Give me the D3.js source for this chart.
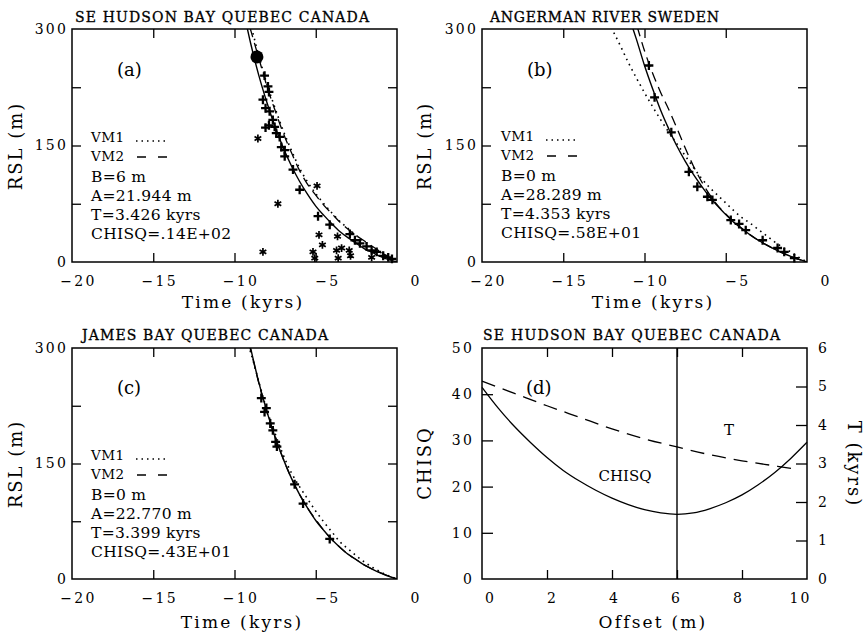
<!DOCTYPE html>
<html>
<head>
<meta charset="utf-8">
<script src="https://cdn.jsdelivr.net/npm/d3@7"></script>
<style>
	body { margin: 0; background: #fff; }
	svg { display: block; font-family: "DejaVu Serif", "Liberation Serif", serif; }
</style>
</head>
<body>
<svg id="chart" width="866" height="637"></svg>
<script>
// ---- values ----
var timeTicks = [-20, -15, -10, -5, 0];
var timeMinor = [-15, -10, -5];
var rslTicks = [0, 150, 300];
var rslMinor = [75, 150, 225];

// (a) SE Hudson Bay  [time kyrs, RSL m]
var aSolid = [[-9.3,309],[-9,281],[-8.5,240],[-8,205],[-7.5,174],[-7,147],[-6.5,124],[-6,104],[-5.5,87],[-5,72],[-4.5,60],[-4,49],[-3.5,39],[-3,31],[-2.5,24],[-2,17],[-1.5,12],[-1,7],[-0.5,3],[0,0]];
var aVm2 = [[-9.05,302],[-8.5,262],[-8,226],[-7.5,195],[-7,166],[-6.5,141],[-6,118],[-5.5,100],[-5,86],[-4.5,73],[-4,62],[-3.5,51],[-3,42],[-2.5,34],[-2,27],[-1.5,20],[-1,13],[-0.5,6],[0,0]];
var aVm1 = [[-8.95,302],[-8.5,265],[-8,229],[-7.5,198],[-7,169],[-6.5,144],[-6,121],[-5.5,103],[-5,88],[-4.5,75],[-4,63],[-3.5,52],[-3,43],[-2.5,34],[-2,26],[-1.5,19],[-1,12],[-0.5,5],[0,0]];
var aCross = [[-8.15,240],[-7.94,226],[-7.88,219],[-8.25,209],[-8.09,198],[-7.84,194],[-7.64,183],[-7.88,176],[-7.53,174],[-8.09,173],[-7.43,166],[-7.22,161],[-7.12,148],[-6.91,144],[-6.91,136],[-6.4,119],[-5.99,93],[-4.86,59],[-4.14,48],[-2.9,36],[-2.59,28],[-2.28,24],[-1.87,20],[-1.56,15],[-1.25,13],[-0.85,8],[-0.54,6],[-0.31,4]];
var aStar = [[-8.56,159],[-7.33,75],[-4.92,98],[-8.25,13],[-4.8,35],[-4.59,22],[-3.66,33],[-5.17,13],[-5.06,5],[-3.72,15],[-3.41,18],[-3.62,5],[-2.94,15],[-2.86,8],[-1.56,6]];
var aBig = [[-8.62,264]];
var aText = ["B=6  m", "A=21.944 m", "T=3.426 kyrs", "CHISQ=.14E+02"];

// (b) Angerman River
var bSolid = [[-10.8,306],[-10.5,287],[-10,253],[-9.5,223],[-9,195],[-8.5,171],[-8,149],[-7.5,130],[-7,113],[-6.5,98],[-6,84],[-5.5,72],[-5,61],[-4.5,51],[-4,43],[-3.5,35],[-3,28],[-2.5,22],[-2,16.5],[-1.5,11.6],[-1,7.3],[-0.5,3.4],[0,0]];
var bVm2 = [[-10.45,303],[-10,272],[-9.5,243],[-9,218],[-8.5,196],[-8,172],[-7.5,147],[-7,124],[-6.5,104],[-6,87],[-5.5,73],[-5,62],[-4.5,52],[-4,43],[-3.5,35],[-3,28],[-2.5,22],[-2,16.5],[-1.5,11.6],[-1,7.3],[-0.5,3.4],[0,0]];
var bVm1 = [[-12.05,302],[-11.5,279],[-11,257],[-10.5,237],[-10,218],[-9.5,200],[-9,183],[-8.5,167],[-8,152],[-7.5,137],[-7,122],[-6.5,108],[-6,96],[-5.5,86],[-5,76],[-4.5,66],[-4,57],[-3.5,50],[-3,42],[-2.5,34],[-2,26],[-1.5,19],[-1,13],[-0.5,6],[0,0]];
var bCross = [[-9.73,253],[-9.38,212],[-8.35,167],[-7.27,116],[-6.75,97],[-6.13,84],[-5.82,80],[-4.69,54],[-4.18,49],[-3.77,41],[-2.73,28],[-1.81,18],[-1.4,13],[-0.78,5]];
var bText = ["B=0  m", "A=28.289 m", "T=4.353 kyrs", "CHISQ=.58E+01"];

// (c) James Bay
var cSolid = [[-9.1,308],[-9,299],[-8.5,255],[-8,217],[-7.5,184],[-7,156],[-6.5,131],[-6,110],[-5.5,92],[-5,76],[-4.5,63],[-4,51],[-3.5,41],[-3,32],[-2.5,25],[-2,18],[-1.5,12.6],[-1,7.8],[-0.5,3.6],[0,0]];
var cVm2 = [[-9.12,306],[-9,297],[-8.5,254],[-8,216],[-7.5,184],[-7,156],[-6.5,131],[-6,110],[-5.5,92],[-5,77],[-4.5,63],[-4,51],[-3.5,41],[-3,32],[-2.5,25],[-2,18],[-1.5,12.6],[-1,7.8],[-0.5,3.6],[0,0]];
var cVm1 = [[-9.15,304],[-9,294],[-8.5,256],[-8,219],[-7.5,189],[-7,161],[-6.5,138],[-6,120],[-5.5,104],[-5,88],[-4.5,74],[-4,61],[-3.5,48],[-3,39],[-2.5,30],[-2,22],[-1.5,15],[-1,9],[-0.5,4],[0,0]];
var cCross = [[-8.35,235],[-8.04,222],[-8.15,217],[-7.8,202],[-7.64,193],[-7.47,178],[-7.39,172],[-6.3,123],[-5.78,98],[-4.14,52]];
var cText = ["B=0  m", "A=22.770 m", "T=3.399 kyrs", "CHISQ=.43E+01"];

// (d) offset scan
var offsetTicks = [0, 2, 4, 6, 8, 10];
var chisqTicks = [0, 10, 20, 30, 40, 50];
var tTicks = [0, 1, 2, 3, 4, 5, 6];
var dOffset = [0,0.5,1,1.5,2,2.5,3,3.5,4,4.5,5,5.5,6,6.5,7,7.5,8,8.5,9,9.5,10];
var dChisq = [41.5,37,33,29.5,26.3,23.5,21.2,19.2,17.5,16.1,15.0,14.3,14.0,14.3,15.2,16.5,18.2,20.4,23.0,26.1,29.6];
var dTOffset = [0,1,2,3,4,5,6,7,8,9,9.7];
var dT = [5.14,4.82,4.5,4.2,3.9,3.64,3.43,3.23,3.07,2.94,2.85];
var dBest = 6;

var svg = d3.select("#chart");
svg.append("rect").attr("width", 866).attr("height", 637).attr("fill", "#fff");

var starType = d3.symbolAsterisk || d3.symbolCross;
var plusType = d3.symbolPlus || d3.symbolCross;

function styleAxis(g) {
	g.select(".domain").remove();
	g.attr("font-family", null).attr("font-size", null);
	g.selectAll("line").attr("stroke", "#000").attr("stroke-width", 1.3);
}

function tickLabels(g) {
	g.select(".domain").remove();
	g.selectAll("line").remove();
	g.attr("font-family", null).attr("font-size", 14);
	g.selectAll("text").attr("fill", "#000").attr("letter-spacing", 2.2);
}

function drawTitle(txt, x0, x1, y) {
	svg.append("text")
		.attr("x", x0).attr("y", y)
		.attr("textLength", x1 - x0).attr("lengthAdjust", "spacing")
		.attr("font-size", 14)
		.attr("stroke", "#000").attr("stroke-width", 0.3)
		.text(txt);
}

function drawYTitle(txt, cx, cy, rot) {
	svg.append("text")
		.attr("transform", "translate(" + cx + "," + cy + ") rotate(" + rot + ")")
		.attr("text-anchor", "middle")
		.attr("dominant-baseline", "middle")
		.attr("font-size", 18).attr("letter-spacing", 2)
		.text(txt);
}

function drawXTitle(txt, cx, y) {
	svg.append("text")
		.attr("x", cx).attr("y", y)
		.attr("text-anchor", "middle")
		.attr("font-size", 17).attr("letter-spacing", 2.2)
		.text(txt);
}

function timePanel(p) {
	var x = d3.scaleLinear().domain([-20, 0]).range([p.x0, p.x1]);
	var y = d3.scaleLinear().domain([0, 300]).range([p.y1, p.y0]);
	var g = svg.append("g");

	g.append("clipPath").attr("id", p.id)
		.append("rect")
		.attr("x", p.x0).attr("y", p.y0)
		.attr("width", p.x1 - p.x0).attr("height", p.y1 - p.y0);

	// inward ticks on all four sides
	g.append("g").attr("transform", "translate(0," + p.y1 + ")")
		.call(d3.axisBottom(x).tickValues(timeMinor).tickSizeInner(-9).tickSizeOuter(0).tickFormat(""))
		.call(styleAxis);
	g.append("g").attr("transform", "translate(0," + p.y0 + ")")
		.call(d3.axisTop(x).tickValues(timeMinor).tickSizeInner(-9).tickSizeOuter(0).tickFormat(""))
		.call(styleAxis);
	g.append("g").attr("transform", "translate(" + p.x0 + ",0)")
		.call(d3.axisLeft(y).tickValues(rslMinor).tickSizeInner(-9).tickSizeOuter(0).tickFormat(""))
		.call(styleAxis);
	g.append("g").attr("transform", "translate(" + p.x1 + ",0)")
		.call(d3.axisRight(y).tickValues(rslMinor).tickSizeInner(-9).tickSizeOuter(0).tickFormat(""))
		.call(styleAxis);

	// tick labels
	g.append("g").attr("transform", "translate(0," + p.y1 + ")")
		.call(d3.axisBottom(x).tickValues(timeTicks).tickSize(0).tickPadding(14).tickFormat(d3.format("d")))
		.call(tickLabels)
		.selectAll("text").attr("text-anchor", "end").attr("x", 24);
	g.append("g").attr("transform", "translate(" + p.x0 + ",0)")
		.call(d3.axisLeft(y).tickValues(rslTicks).tickSize(0).tickPadding(4))
		.call(tickLabels);

	var line = d3.line()
		.x(function(d) { return x(d[0]); })
		.y(function(d) { return y(d[1]); })
		.curve(d3.curveMonotoneX);

	var curves = g.append("g").attr("clip-path", "url(#" + p.id + ")").attr("fill", "none").attr("stroke", "#000");
	curves.append("path").attr("d", line(p.vm1)).attr("stroke-width", 1.6).attr("stroke-dasharray", "1.6,4.2");
	curves.append("path").attr("d", line(p.vm2)).attr("stroke-width", 1.3).attr("stroke-dasharray", "10,6");
	curves.append("path").attr("d", line(p.solid)).attr("stroke-width", 1.4);

	g.selectAll(".cross-" + p.id)
		.data(p.cross)
		.enter().append("path")
			.attr("transform", function(d) { return "translate(" + x(d[0]) + "," + y(d[1]) + ")"; })
			.attr("d", d3.symbol().type(plusType).size(28))
			.attr("fill", "none").attr("stroke", "#000").attr("stroke-width", 2.3);

	if( p.star ) {
		g.selectAll(".star-" + p.id)
			.data(p.star)
			.enter().append("path")
				.attr("transform", function(d) { return "translate(" + x(d[0]) + "," + y(d[1]) + ")"; })
				.attr("d", d3.symbol().type(starType).size(42))
				.attr("fill", "none").attr("stroke", "#000").attr("stroke-width", 1.7);
	}
	if( p.big ) {
		g.selectAll(".big-" + p.id)
			.data(p.big)
			.enter().append("circle")
				.attr("cx", function(d) { return x(d[0]); })
				.attr("cy", function(d) { return y(d[1]); })
				.attr("r", 6.5).attr("fill", "#000");
	}

	g.append("rect")
		.attr("x", p.x0).attr("y", p.y0)
		.attr("width", p.x1 - p.x0).attr("height", p.y1 - p.y0)
		.attr("fill", "none").attr("stroke", "#000").attr("stroke-width", 1.5);

	// panel tag and legend block
	g.append("text").attr("x", p.x0 + 45).attr("y", p.tagY).attr("font-size", 18).text(p.tag);

	var lx = p.x0 + 19, ly = p.legY;
	g.append("text").attr("x", lx).attr("y", ly).attr("font-size", 13.5).attr("letter-spacing", 0.5).text("VM1");
	g.append("line").attr("x1", lx + 45).attr("x2", lx + 78).attr("y1", ly - 1).attr("y2", ly - 1)
		.attr("stroke", "#000").attr("stroke-width", 1.5).attr("stroke-dasharray", "1.5,4");
	g.append("text").attr("x", lx).attr("y", ly + 19).attr("font-size", 13.5).attr("letter-spacing", 0.5).text("VM2");
	g.append("line").attr("x1", lx + 46).attr("x2", lx + 77).attr("y1", ly + 15).attr("y2", ly + 15)
		.attr("stroke", "#000").attr("stroke-width", 1.3).attr("stroke-dasharray", "9,12");

	g.selectAll(".leg-" + p.id)
		.data(p.text)
		.enter().append("text")
			.attr("x", lx)
			.attr("y", function(d, i) { return ly + 40 + i * 19; })
			.attr("font-size", 15.5)
			.attr("letter-spacing", 0.3)
			.text(function(d) { return d; });
}

function offsetPanel(p) {
	var x = d3.scaleLinear().domain([0, 10]).range([p.x0, p.x1]);
	var xLab = d3.scaleLinear().domain([0, 10]).range([p.x0 + 8, p.x1 - 7]);
	var yc = d3.scaleLinear().domain([0, 50]).range([p.y1, p.y0]);
	var yt = d3.scaleLinear().domain([0, 6]).range([p.y1, p.y0]);
	var g = svg.append("g");

	var inner = offsetTicks.filter(function(d) { return d > 0 && d < 10; });
	g.append("g").attr("transform", "translate(0," + p.y1 + ")")
		.call(d3.axisBottom(x).tickValues(inner).tickSizeInner(-9).tickSizeOuter(0).tickFormat(""))
		.call(styleAxis);
	g.append("g").attr("transform", "translate(0," + p.y0 + ")")
		.call(d3.axisTop(x).tickValues(inner).tickSizeInner(-9).tickSizeOuter(0).tickFormat(""))
		.call(styleAxis);
	g.append("g").attr("transform", "translate(" + p.x0 + ",0)")
		.call(d3.axisLeft(yc).tickValues(chisqTicks.slice(1, 5)).tickSizeInner(-11).tickSizeOuter(0).tickFormat(""))
		.call(styleAxis);
	g.append("g").attr("transform", "translate(" + p.x1 + ",0)")
		.call(d3.axisRight(yt).tickValues(tTicks.slice(1, 6)).tickSizeInner(-11).tickSizeOuter(0).tickFormat(""))
		.call(styleAxis);

	g.append("g").attr("transform", "translate(0," + p.y1 + ")")
		.call(d3.axisBottom(xLab).tickValues(offsetTicks).tickSize(0).tickPadding(14).tickFormat(d3.format("d")))
		.call(tickLabels);
	g.append("g").attr("transform", "translate(" + p.x0 + ",0)")
		.call(d3.axisLeft(yc).tickValues(chisqTicks).tickSize(0).tickPadding(8).tickFormat(d3.format("d")))
		.call(tickLabels);
	g.append("g").attr("transform", "translate(" + p.x1 + ",0)")
		.call(d3.axisRight(yt).tickValues(tTicks).tickSize(0).tickPadding(11).tickFormat(d3.format("d")))
		.call(tickLabels);

	var chisqLine = d3.line()
		.x(function(d, i) { return x(dOffset[i]); })
		.y(function(d) { return yc(d); })
		.curve(d3.curveMonotoneX);
	var tLine = d3.line()
		.x(function(d, i) { return x(dTOffset[i]); })
		.y(function(d) { return yt(d); })
		.curve(d3.curveMonotoneX);

	g.append("path").attr("d", chisqLine(dChisq)).attr("fill", "none").attr("stroke", "#000").attr("stroke-width", 1.3);
	g.append("path").attr("d", tLine(dT)).attr("fill", "none").attr("stroke", "#000").attr("stroke-width", 1.3)
		.attr("stroke-dasharray", "14,8");
	g.append("line")
		.attr("x1", x(dBest)).attr("x2", x(dBest))
		.attr("y1", p.y0).attr("y2", p.y1)
		.attr("stroke", "#000").attr("stroke-width", 1.4);

	g.append("rect")
		.attr("x", p.x0).attr("y", p.y0)
		.attr("width", p.x1 - p.x0).attr("height", p.y1 - p.y0)
		.attr("fill", "none").attr("stroke", "#000").attr("stroke-width", 1.5);

	g.append("text").attr("x", p.x0 + 44).attr("y", p.y0 + 46).attr("font-size", 18).text("(d)");
	g.append("text").attr("x", x(7.6)).attr("y", yt(3.75)).attr("text-anchor", "middle").attr("font-size", 15).text("T");
	g.append("text").attr("x", x(4.4)).attr("y", yc(21.3)).attr("text-anchor", "middle").attr("font-size", 15).text("CHISQ");
}

timePanel({ id: "pa", x0: 72, x1: 397, y0: 29, y1: 262, tag: "(a)", tagY: 76, legY: 142,
	solid: aSolid, vm1: aVm1, vm2: aVm2, cross: aCross, star: aStar, big: aBig, text: aText });
timePanel({ id: "pb", x0: 482, x1: 807, y0: 29, y1: 262, tag: "(b)", tagY: 76, legY: 141,
	solid: bSolid, vm1: bVm1, vm2: bVm2, cross: bCross, text: bText });
timePanel({ id: "pc", x0: 72, x1: 397, y0: 348, y1: 579, tag: "(c)", tagY: 394, legY: 460,
	solid: cSolid, vm1: cVm1, vm2: cVm2, cross: cCross, text: cText });
offsetPanel({ x0: 482, x1: 807, y0: 348, y1: 579 });

drawTitle("SE HUDSON BAY QUEBEC CANADA", 75, 369, 22);
drawTitle("ANGERMAN RIVER SWEDEN", 490, 719, 22);
drawTitle("JAMES BAY QUEBEC CANADA", 82, 328, 340);
drawTitle("SE HUDSON BAY QUEBEC CANADA", 483, 780, 340);

drawYTitle("RSL (m)", 17, 146, -90);
drawYTitle("RSL (m)", 426, 146, -90);
drawYTitle("RSL (m)", 17, 464, -90);
drawYTitle("CHISQ", 426, 463, -90);
drawYTitle("T (kyrs)", 853, 464, 90);

drawXTitle("Time (kyrs)", 243, 308);
drawXTitle("Time (kyrs)", 653, 308);
drawXTitle("Time (kyrs)", 242, 628);
drawXTitle("Offset (m)", 653, 628);
</script>
</body>
</html>
